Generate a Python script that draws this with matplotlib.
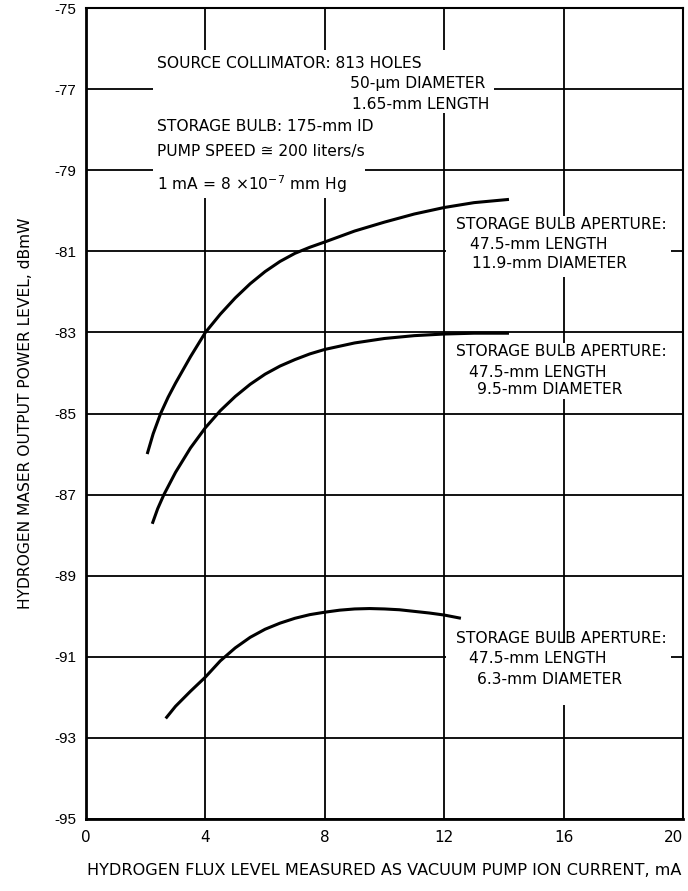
import numpy as np
import matplotlib.pyplot as plt
from matplotlib.patches import Rectangle

# --- DATA ---
x_119 = [2.05, 2.25, 2.5, 2.75, 3.0, 3.5, 4.0, 4.5, 5.0, 5.5, 6.0, 6.5, 7.0, 7.5, 8.0,
         9.0, 10.0, 11.0, 12.0, 13.0, 14.17]
y_119 = [-86.0, -85.5, -85.0, -84.6, -84.25, -83.6, -83.0, -82.55, -82.15, -81.8, -81.5, -81.25,
         -81.05, -80.9, -80.77, -80.5, -80.28, -80.08, -79.92, -79.8, -79.72]

x_95 = [2.22, 2.4, 2.61, 3.0, 3.5, 4.0, 4.5, 5.0, 5.5, 6.0, 6.5, 7.0, 7.5, 8.0,
        9.0, 10.0, 11.0, 12.0, 13.0, 14.17]
y_95 = [-87.72, -87.35, -87.0, -86.45, -85.85, -85.35, -84.93, -84.58, -84.28, -84.03, -83.83,
        -83.67, -83.53, -83.42, -83.26, -83.15, -83.08, -83.04, -83.02, -83.02]

x_63 = [2.67, 3.0, 3.5, 4.0, 4.5, 5.0, 5.5, 6.0, 6.5, 7.0, 7.5, 8.0, 8.5, 9.0, 9.5,
        10.0, 10.5, 11.0, 11.5, 12.0, 12.56]
y_63 = [-92.52, -92.22, -91.85, -91.5, -91.1, -90.78, -90.52, -90.32, -90.17, -90.05, -89.96,
        -89.9, -89.85, -89.82, -89.81, -89.82, -89.84, -89.88, -89.92, -89.97, -90.05]

x_ticks = [0, 4, 8, 12, 16, 20]
y_ticks = [-95, -93, -91, -89, -87, -85, -83, -81, -79, -77, -75]

label_lines = {
    "11.9": ["STORAGE BULB APERTURE:", "47.5-mm LENGTH", "11.9-mm DIAMETER"],
    "9.5": ["STORAGE BULB APERTURE:", "47.5-mm LENGTH", "9.5-mm DIAMETER"],
    "6.3": ["STORAGE BULB APERTURE:", "47.5-mm LENGTH", "6.3-mm DIAMETER"],
}

FONT = ["DejaVu Sans"]

# --- FIGURE ---
fig = plt.figure(figsize=(6.88, 8.91), dpi=100)
ax = fig.add_axes([86 / 688, 1 - 819 / 891, 597 / 688, 811 / 891])

ax.set_xlim(0, 20)
ax.set_ylim(-95, -75)
ax.set_xticks(x_ticks)
ax.set_yticks(y_ticks)
ax.set_xticklabels([str(t) for t in x_ticks], family=FONT, fontsize=11)
ax.set_yticklabels([str(t) for t in y_ticks], family="Liberation Sans", fontsize=11)
ax.get_xticklabels()[-1].set_horizontalalignment("right")
ax.tick_params(axis="both", length=0)
ax.tick_params(axis="x", pad=8)
ax.tick_params(axis="y", pad=7)
ax.set_axisbelow(True)
ax.grid(True, color="black", linewidth=1.3)

for side in ["left", "bottom"]:
    ax.spines[side].set_linewidth(2.0)
for side in ["top", "right"]:
    ax.spines[side].set_linewidth(1.5)

# white masks behind the annotation blocks (grid is broken there)
masks = [
    (2.24, -77.59, 13.68 - 2.24, 1.55),
    (2.24, -79.69, 9.33 - 2.24, 3.36),
    (12.07, -81.63, 19.6 - 12.07, 1.5),
    (12.07, -84.64, 19.6 - 12.07, 1.38),
    (12.07, -92.19, 19.6 - 12.07, 1.53),
]
for mx, my, mw, mh in masks:
    ax.add_patch(Rectangle((mx, my), mw, mh, facecolor="white", edgecolor="none", zorder=1))

# curves
for xs, ys in [(x_119, y_119), (x_95, y_95), (x_63, y_63)]:
    ax.plot(xs, ys, color="black", linewidth=2.2, solid_capstyle="butt",
            solid_joinstyle="round", zorder=3)

# top-left annotation
tkw = dict(family=FONT, fontsize=11.2, va="center", ha="left", zorder=4)
ax.text(2.37, -76.36, "SOURCE COLLIMATOR: 813 HOLES", **tkw)
ax.text(8.83, -76.87, "50-\u03bcm DIAMETER", **tkw)
ax.text(8.9, -77.37, "1.65-mm LENGTH", **tkw)
ax.text(2.37, -77.91, "STORAGE BULB: 175-mm ID", **tkw)
ax.text(2.37, -78.53, "PUMP SPEED \u2245 200 liters/s", **tkw)
ax.text(2.37, -79.34, "1 mA = 8 \u00d710$^{-7}$ mm Hg", **tkw)

# curve labels
label_pos = {
    "11.9": ([12.41, 12.88, 12.94], [-80.33, -80.82, -81.31]),
    "9.5": ([12.41, 12.84, 13.11], [-83.48, -83.98, -84.42]),
    "6.3": ([12.41, 12.84, 13.11], [-90.56, -91.05, -91.55]),
}
for key, lines in label_lines.items():
    xs, ys = label_pos[key]
    for line, lx, ly in zip(lines, xs, ys):
        ax.text(lx, ly, line, **tkw)

ax.set_xlabel("HYDROGEN FLUX LEVEL MEASURED AS VACUUM PUMP ION CURRENT, mA",
              family=FONT, fontsize=11.6, labelpad=13)
ax.set_ylabel("HYDROGEN MASER OUTPUT POWER LEVEL, dBmW", family=FONT, fontsize=11.2, labelpad=15)

fig.savefig("out.png", dpi=100)
